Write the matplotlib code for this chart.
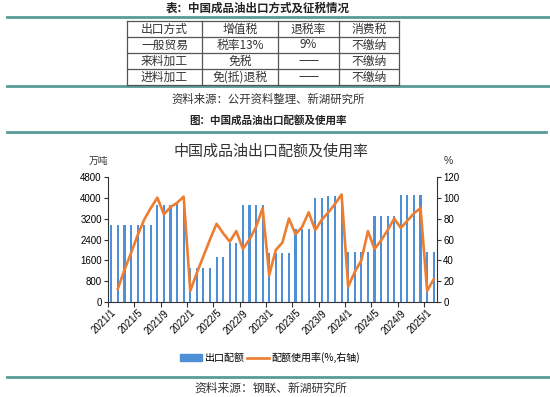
import numpy as np
import matplotlib.pyplot as plt
from matplotlib.lines import Line2D
from matplotlib.patches import Patch

plt.rcParams['font.family'] = ['Liberation Sans', 'Noto Sans CJK SC', 'DejaVu Sans']

# months 2021/1 .. 2025/2
months = ['%d/%d' % (y, m) for y in range(2021, 2026) for m in range(1, 13)][:50]

# export quota (10k tonnes, cumulative per year)
quota = ([2950] * 7 + [3700, 3700, 3730, 3760, 3760]
         + [1300] * 4 + [1750] * 2 + [2250] * 2 + [3725] * 4
         + [1890] * 4 + [2799] * 3 + [3999] * 2 + [4070] * 3
         + [1910] * 4 + [3300] * 4 + [4100] * 4
         + [1910] * 2)

# quota usage rate (%), no value for 2021/1
usage = [np.nan, 13, 31, 47, 64, 79, 90, 100, 84, 91, 95, 101,
         11, 28, 44, 60, 75, 66, 58, 68, 51, 60, 72, 90,
         26, 50, 57, 80, 65, 72, 86, 69, 79, 86, 94, 103,
         15, 29, 40, 68, 51, 59, 69, 80, 71, 78, 85, 90,
         11, 22]

table_rows = [['出口方式', '增值税', '退税率', '消费税'],
              ['一般贸易', '税率13%', '9%', '不缴纳'],
              ['来料加工', '免税', '——', '不缴纳'],
              ['进料加工', '免(抵)退税', '——', '不缴纳']]

W, H = 550, 397
teal = '#5A9A98'
cjk = ['Noto Sans CJK SC', 'DejaVu Sans']


def fx(px):
    return px / W


def fy(py):
    return 1 - py / H


fig = plt.figure(figsize=(5.5, 3.97), dpi=100)

# ---- header table ----
fig.text(fx(258), fy(8.5), '表：中国成品油出口方式及征税情况', ha='center', va='center',
         fontsize=8.3, fontweight='bold', family=cjk, color='#222222')
for yy in [16.7, 86]:
    fig.add_artist(Line2D([fx(7), 1], [fy(yy), fy(yy)], color=teal, lw=2))

col_x = [127, 202, 278, 339, 399]
row_y = [21, 37, 53, 69, 85]
for x in col_x:
    fig.add_artist(Line2D([fx(x), fx(x)], [fy(row_y[0]), fy(row_y[-1])], color='#555555', lw=0.9))
for y in row_y:
    fig.add_artist(Line2D([fx(col_x[0]), fx(col_x[-1])], [fy(y), fy(y)], color='#555555', lw=0.9))
for r, row in enumerate(table_rows):
    for c, txt in enumerate(row):
        fig.text(fx((col_x[c] + col_x[c + 1]) / 2), fy((row_y[r] + row_y[r + 1]) / 2), txt,
                 ha='center', va='center', fontsize=8.5, family=cjk, color='#333333')

fig.text(fx(268), fy(99.5), '资料来源：公开资料整理、新湖研究所', ha='center', va='center',
         fontsize=8.2, family=cjk, color='#333333')
fig.text(fx(268), fy(120.7), '图：中国成品油出口配额及使用率', ha='center', va='center',
         fontsize=7.6, fontweight='bold', family=cjk, color='#222222')
fig.add_artist(Line2D([fx(7), fx(546)], [fy(132.3), fy(132.3)], color=teal, lw=2))

# ---- chart ----
ax = fig.add_axes([fx(108), fy(302.3), fx(437) - fx(108), (302.3 - 176.7) / H])
x = np.arange(len(months))
ax.bar(x, quota, width=0.32, color='#4F8FD6', zorder=2)
ax.set_xlim(-0.5, len(months) - 0.5)
ax.set_ylim(0, 4800)
ax.set_yticks(np.arange(0, 4801, 800))
ax.tick_params(axis='y', labelsize=7, length=3, width=0.8, color='#333333', pad=1.5)

ax.set_xticks(x[::4])
ax.set_xticklabels(months[::4], rotation=45, ha='right', rotation_mode='anchor')
ax.tick_params(axis='x', which='major', length=0, labelsize=7, pad=4)
ax.set_xticks(np.arange(-0.5, len(months), 4), minor=True)
ax.tick_params(axis='x', which='minor', length=3.5, width=0.8, color='#333333')

ax2 = ax.twinx()
ax2.plot(x, usage, color='#ED7D31', lw=1.9, zorder=3)
ax2.set_ylim(0, 120)
ax2.set_yticks(np.arange(0, 121, 20))
ax2.tick_params(axis='y', labelsize=7, length=3, width=0.8, color='#333333', pad=1.5)

for a in [ax, ax2]:
    a.spines['top'].set_visible(False)
    for s in ['left', 'right', 'bottom']:
        a.spines[s].set_color('#333333')
        a.spines[s].set_linewidth(0.8)
ax.spines['right'].set_visible(False)
ax2.spines['left'].set_visible(False)
ax2.spines['bottom'].set_visible(False)

fig.text(fx(271), fy(151.5), '中国成品油出口配额及使用率', ha='center', va='center',
         fontsize=10.8, family=cjk, color='#333333')
fig.text(fx(98), fy(161), '万吨', ha='center', va='center', fontsize=7, family=cjk, color='#333333')
fig.text(fx(448), fy(161), '%', ha='center', va='center', fontsize=7.5, color='#333333')

handles = [Patch(color='#4F8FD6'), Line2D([], [], color='#ED7D31', lw=1.9)]
fig.legend(handles, ['出口配额', '配额使用率(%,右轴)'], loc='center',
           bbox_to_anchor=(fx(270), fy(357.5)), ncol=2, frameon=False, fontsize=7.2,
           handlelength=2.2, handleheight=0.6, handletextpad=0.3, columnspacing=0.2,
           prop={'family': cjk, 'size': 7.2})

fig.add_artist(Line2D([fx(7), 1], [fy(377.3), fy(377.3)], color=teal, lw=2))
fig.text(fx(271), fy(388), '资料来源：钢联、新湖研究所', ha='center', va='center',
         fontsize=8.5, family=cjk, color='#333333')

fig.savefig('out.png', dpi=100)
